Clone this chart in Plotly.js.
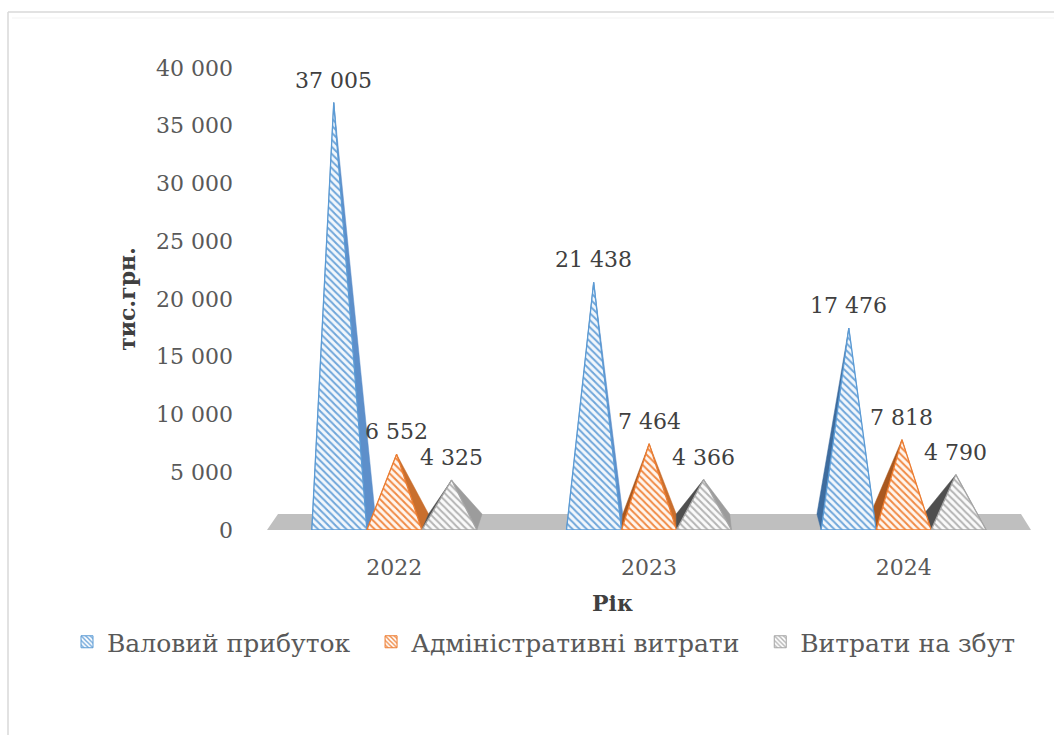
<!DOCTYPE html>
<html>
<head>
<meta charset="utf-8">
<script src="https://cdn.plot.ly/plotly-3.0.1.min.js"></script>
<style>
  html, body { margin: 0; padding: 0; background: #ffffff; }
  #chart { width: 1054px; height: 735px; }
</style>
</head>
<body>
<div id="chart"></div>
<script>
// Financial indicators, thousand UAH
const categories = ['2022', '2023', '2024'];
const seriesNames = ['Валовий прибуток', 'Адміністративні витрати', 'Витрати на збут'];
const grossProfit = [37005, 21438, 17476];
const adminExpenses = [6552, 7464, 7818];
const sellingExpenses = [4325, 4366, 4790];
const yTickValues = [0, 5000, 10000, 15000, 20000, 25000, 30000, 35000, 40000];

const seriesValues = [grossProfit, adminExpenses, sellingExpenses];

// Colours: outline, hatch stripes, hatch ground, lit right face, shaded left face
const styles = [
  { line: '#5B9BD5', hatch: '#6FA6DA', ground: '#F2F7FC', right: '#5D8FCA', left: '#3E6C9E' },
  { line: '#ED7D31', hatch: '#F08A45', ground: '#FFF6EF', right: '#C96F2E', left: '#A9581F' },
  { line: '#A5A5A5', hatch: '#B4B4B4', ground: '#FAFAFA', right: '#9C9C9C', left: '#4F4F4F' }
];

// Pseudo-3D pyramid geometry (x in category units, y in value units)
const Y_MAX = 40000;
const PYR_W = 0.216;     // base width of one pyramid
const VP_X = 1.571;      // horizontal vanishing position
const SHIFT = 0.0275;    // back-edge horizontal shift per unit distance from VP_X
const DEPTH = 1385;      // floor depth expressed in value units
const LEAN = 0.0337;     // apex lean from perspective

const FONT = 'DejaVu Serif, Liberation Serif, serif';
const NBSP = '\u00A0';

function backShift(x) { return -SHIFT * (x - VP_X); }

function pyramid(i, j, v) {
  const xL = i + 0.5 + (j - 1.5) * PYR_W;
  const xR = xL + PYR_W;
  const mid = (xL + xR) / 2;
  const cx = mid + backShift(mid) / 2;
  const ax = cx + LEAN * (cx - VP_X) * (v / Y_MAX);
  return { xL, xR, ax, ay: v };
}

function fmt(v) {
  return String(Math.round(v)).replace(/\B(?=(\d{3})+(?!\d))/g, NBSP);
}

const traces = [];

// Floor
const nCat = categories.length;
traces.push({
  type: 'scatter', mode: 'lines', fill: 'toself',
  x: [0, nCat, nCat + backShift(nCat), 0 + backShift(0), 0],
  y: [0, 0, DEPTH, DEPTH, 0],
  fillcolor: '#BFBFBF', line: { width: 0 },
  hoverinfo: 'skip', showlegend: false
});

// Side faces (both sides; the hidden one sits inside the front face)
seriesValues.forEach((vals, j) => {
  const lx = [], ly = [], rx = [], ry = [];
  vals.forEach((v, i) => {
    const p = pyramid(i, j, v);
    lx.push(p.xL, p.xL + backShift(p.xL), p.ax, p.xL, null);
    ly.push(0, DEPTH, p.ay, 0, null);
    rx.push(p.xR, p.xR + backShift(p.xR), p.ax, p.xR, null);
    ry.push(0, DEPTH, p.ay, 0, null);
  });
  traces.push({
    type: 'scatter', mode: 'lines', fill: 'toself', x: lx, y: ly,
    fillcolor: styles[j].left, line: { width: 0.5, color: styles[j].left },
    hoverinfo: 'skip', showlegend: false
  });
  traces.push({
    type: 'scatter', mode: 'lines', fill: 'toself', x: rx, y: ry,
    fillcolor: styles[j].right, line: { width: 0.5, color: styles[j].right },
    hoverinfo: 'skip', showlegend: false
  });
});

// Hatched front faces
seriesValues.forEach((vals, j) => {
  const fx = [], fy = [];
  vals.forEach((v, i) => {
    const p = pyramid(i, j, v);
    fx.push(p.xL, p.xR, p.ax, p.xL, null);
    fy.push(0, 0, p.ay, 0, null);
  });
  traces.push({
    type: 'scatter', mode: 'lines', fill: 'toself', x: fx, y: fy,
    fillcolor: styles[j].ground,
    fillpattern: { shape: '\\', fgcolor: styles[j].hatch, bgcolor: styles[j].ground, size: 5, solidity: 0.4, fillmode: 'replace' },
    line: { width: 1.3, color: styles[j].line },
    name: seriesNames[j], hoverinfo: 'skip', showlegend: false
  });
});

// Legend entries (trailing no-break spaces widen the gap between entries)
seriesNames.forEach((name, j) => {
  traces.push({
    type: 'bar', x: [null], y: [null],
    name: j < seriesNames.length - 1 ? name + NBSP + NBSP : name,
    marker: {
      color: '#ffffff',
      pattern: { shape: '\\', fgcolor: styles[j].hatch, bgcolor: '#ffffff', size: 4, solidity: 0.45, fillmode: 'replace' },
      line: { color: styles[j].line, width: 1 }
    },
    hoverinfo: 'skip', showlegend: true
  });
});

// Value labels above each apex
const valueLabels = [];
seriesValues.forEach((vals, j) => {
  vals.forEach((v, i) => {
    const p = pyramid(i, j, v);
    valueLabels.push({
      x: p.ax, y: v, xref: 'x', yref: 'y', text: fmt(v),
      xanchor: 'center', yanchor: 'bottom', yshift: 8, showarrow: false,
      font: { family: FONT, size: 22, color: '#404040' }
    });
  });
});

// Pixel helpers for paper-positioned items
const L = 267, R = 1031, T = 68, B = 530;
const px = v => (v - L) / (R - L);
const py = v => (B - v) / (B - T);

const layout = {
  width: 1054, height: 735,
  margin: { l: L, r: 1054 - R, t: T, b: 735 - B, pad: 0 },
  paper_bgcolor: '#ffffff', plot_bgcolor: 'rgba(0,0,0,0)',
  separators: ', ',
  showlegend: true,
  xaxis: {
    range: [0, nCat], fixedrange: true,
    tickmode: 'array', tickvals: categories.map((c, i) => i + 0.5), ticktext: categories,
    showgrid: false, zeroline: false, showline: false, ticks: '',
    tickfont: { family: FONT, size: 22, color: '#595959' },
    ticklabelstandoff: 22
  },
  yaxis: {
    range: [0, Y_MAX], fixedrange: true,
    tickmode: 'array', tickvals: yTickValues, tickformat: ',.0f', separatethousands: true,
    showgrid: false, zeroline: false, showline: false, ticks: '',
    tickfont: { family: FONT, size: 22, color: '#595959' },
    ticklabelstandoff: 33,
    title: { text: 'тис.грн.', standoff: 14, font: { family: FONT, size: 22, color: '#404040', weight: 'bold' } }
  },
  legend: {
    orientation: 'h', x: px(67), xanchor: 'left', y: py(619), yanchor: 'top',
    font: { family: FONT, size: 25, color: '#595959' },
    bgcolor: 'rgba(0,0,0,0)', traceorder: 'normal'
  },
  annotations: valueLabels.concat([{
    text: 'Рік', xref: 'paper', yref: 'paper', x: px(612), y: py(603),
    xanchor: 'center', yanchor: 'middle', showarrow: false,
    font: { family: FONT, size: 22, color: '#404040', weight: 'bold' }
  }]),
  shapes: [
    { type: 'line', xref: 'paper', yref: 'paper', x0: px(8), x1: px(8), y0: py(745), y1: py(12), line: { color: '#D9D9D9', width: 1.5 }, layer: 'below' },
    { type: 'line', xref: 'paper', yref: 'paper', x0: px(8), x1: px(1060), y0: py(12), y1: py(12), line: { color: '#D9D9D9', width: 1.5 }, layer: 'below' },
    { type: 'line', xref: 'paper', yref: 'paper', x0: px(12), x1: px(1060), y0: py(18), y1: py(18), line: { color: '#F3F3F3', width: 1 }, layer: 'below' }
  ],
  hovermode: false
};

Plotly.newPlot('chart', traces, layout, { displayModeBar: false, staticPlot: true });
</script>
</body>
</html>
